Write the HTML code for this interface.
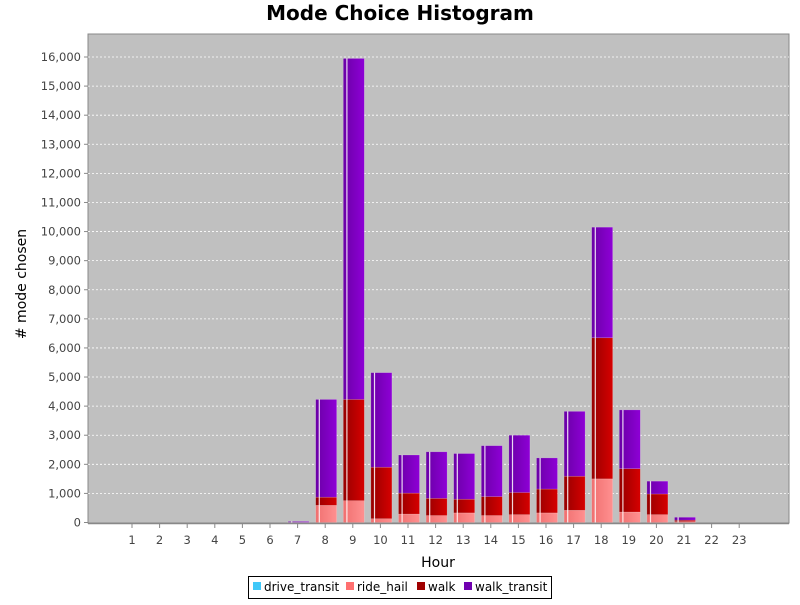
<!DOCTYPE html>
<html><head><meta charset="utf-8"><style>
body{margin:0;background:#fff;font-family:"Liberation Sans","DejaVu Sans",sans-serif}
</style></head><body>
<svg id="chart" width="800" height="600" xmlns="http://www.w3.org/2000/svg" font-family="DejaVu Sans, Liberation Sans, sans-serif">
<defs>
<linearGradient id="gWT" x1="0" x2="1" y1="0" y2="0"><stop offset="0" stop-color="#6a00a6"/><stop offset="1" stop-color="#8e00d6"/></linearGradient>
<linearGradient id="gW" x1="0" x2="1" y1="0" y2="0"><stop offset="0" stop-color="#960000"/><stop offset="1" stop-color="#d60000"/></linearGradient>
<linearGradient id="gR" x1="0" x2="1" y1="0" y2="0"><stop offset="0" stop-color="#f07070"/><stop offset="1" stop-color="#ff9090"/></linearGradient>
<linearGradient id="gD" x1="0" x2="1" y1="0" y2="0"><stop offset="0" stop-color="#30b0e0"/><stop offset="1" stop-color="#40d0ff"/></linearGradient>
</defs>
<text x="400" y="20" text-anchor="middle" font-size="20" font-weight="bold">Mode Choice Histogram</text>
<rect x="88" y="34" width="701" height="489" fill="#c0c0c0" stroke="#888" stroke-width="1"/>
<g id="grid"></g><g id="bars"></g><g id="axes"></g>
<text x="438" y="567" text-anchor="middle" font-size="14">Hour</text>
<text transform="translate(26,284) rotate(-90)" text-anchor="middle" font-size="14"># mode chosen</text>
<g>
<rect x="248.5" y="576.5" width="303" height="22" fill="#fff" stroke="#000"/>
<rect x="253" y="582" width="8" height="8" fill="#40c8f8"/>
<text x="264" y="591" font-size="12">drive_transit</text>
<rect x="346" y="582" width="8" height="8" fill="#ff7070"/>
<text x="357" y="591" font-size="12">ride_hail</text>
<rect x="417" y="582" width="8" height="8" fill="#a00000"/>
<text x="428" y="591" font-size="12">walk</text>
<rect x="464" y="582" width="8" height="8" fill="#7000b0"/>
<text x="475" y="591" font-size="12">walk_transit</text>
</g>
</svg>
<script>
const hours=[0,1,2,3,4,5,6,7,8,9,10,11,12,13,14,15,16,17,18,19,20,21,22,23];
const driveTransit=[0,0,0,0,0,0,0,0,0,0,0,0,0,0,0,0,0,0,0,0,0,0,0,0];
const rideHail=[0,0,0,0,0,0,0,2,590,750,130,290,240,330,240,270,330,420,1500,360,270,30,0,0];
const walk=[0,0,0,0,0,0,0,3,280,3480,1770,720,590,470,650,760,820,1170,4850,1490,710,50,0,0];
const walkTransit=[0,0,0,0,0,0,0,30,3360,11720,3250,1310,1600,1570,1750,1970,1070,2230,3800,2020,440,100,0,0];
const yTicks=[0,1000,2000,3000,4000,5000,6000,7000,8000,9000,10000,11000,12000,13000,14000,15000,16000];
const NS="http://www.w3.org/2000/svg";
const y=v=>522.5-v*(465.5/16000);
const x=i=>104.4+27.6*i;
function mk(tag,attrs,parent){const e=document.createElementNS(NS,tag);for(const k in attrs)e.setAttribute(k,attrs[k]);parent.appendChild(e);return e;}
const grid=document.getElementById('grid'),axes=document.getElementById('axes'),bars=document.getElementById('bars');
yTicks.forEach(t=>{
 if(t>0){const g=mk('line',{x1:88,x2:789,y1:y(t),y2:y(t),stroke:'#fff','stroke-dasharray':'2,2','stroke-width':0.8},grid);
 
 }
 const tk=mk('line',{x1:84,x2:88,y1:y(t),y2:y(t),stroke:'#888'},axes);
 
 
 const lb=mk('text',{x:81,y:y(t)+4,'text-anchor':'end','font-size':11.5,fill:'#444'},axes);
 lb.textContent=t.toLocaleString('en-US');
 
 
});
const ax=mk('line',{x1:88,x2:789,y1:523.5,y2:523.5,stroke:'#888','stroke-width':1.5},axes);


hours.forEach((h,i)=>{
 if(h===0)return;
 const tk=mk('line',{x1:x(i),x2:x(i),y1:524,y2:528,stroke:'#888'},axes);
 
 
 const lb=mk('text',{x:x(i),y:544,'text-anchor':'middle','font-size':11.5,fill:'#444'},axes);
 lb.textContent=h;
 
 
});
const series=[[driveTransit,'url(#gD)','drive-transit'],[rideHail,'url(#gR)','ride-hail'],[walk,'url(#gW)','walk'],[walkTransit,'url(#gWT)','walk-transit']];
hours.forEach((h,i)=>{
 let base=0;const cx=x(i)+1,w=21,l=cx-10.5;
 const tot=driveTransit[i]+rideHail[i]+walk[i]+walkTransit[i];
 if(tot<=0)return;
 series.forEach(([arr,fill,name])=>{
  const v=arr[i];if(v<=0)return;
  const r=mk('rect',{x:l,y:y(base+v),width:w,height:y(base)-y(base+v),fill:fill,stroke:'rgba(255,255,255,0.25)','stroke-width':0.6},bars);
  
  
  base+=v;
 });
 const hl=mk('rect',{x:l+3,y:y(tot),width:1.2,height:y(0)-y(tot),fill:'rgba(255,255,255,0.85)'},bars);
 
 
});
</script>
</body></html>
